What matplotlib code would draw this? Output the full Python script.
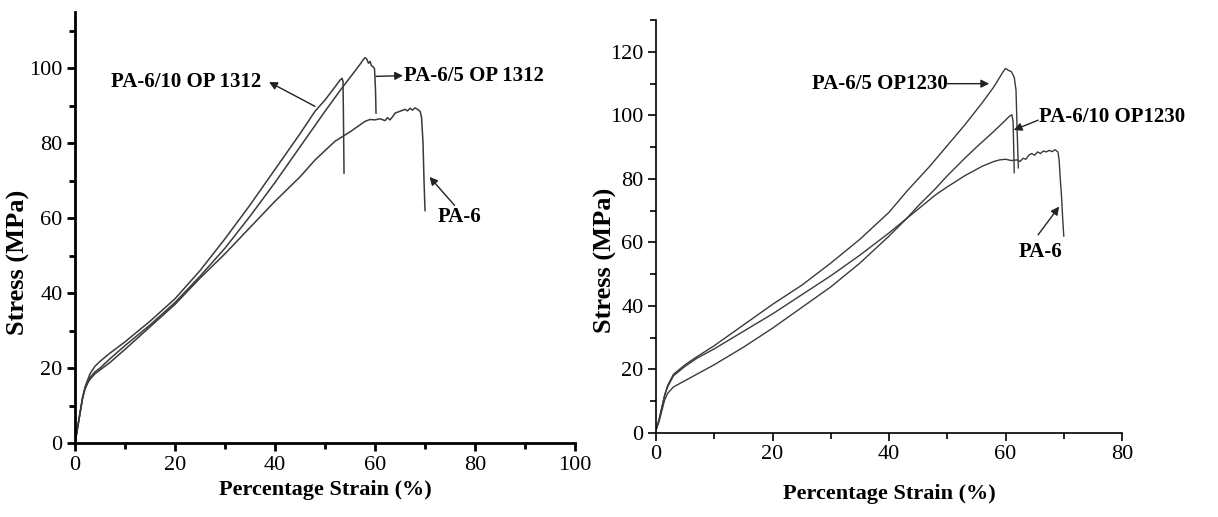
import numpy as np
import matplotlib
matplotlib.use("Agg")
import matplotlib.pyplot as plt
from matplotlib.ticker import MultipleLocator

plt.rcParams['font.family'] = ['Liberation Serif', 'DejaVu Serif']

# ---- left panel (OP 1312) ----
pa6_L_x = [0, 0.5, 1, 1.5, 2, 2.5, 3, 4, 5, 7, 10, 15, 20, 25, 30, 35, 40, 45, 48, 50, 52, 55, 58, 59,
           60, 61, 62, 62.5, 63, 63.5, 64, 65, 66, 66.5, 67, 67.5, 68, 68.5, 69, 69.3, 69.6, 69.8, 70]
pa6_L_y = [0, 4, 8, 12, 14.5, 16, 17, 18.5, 19.5, 21.5, 25, 31, 37, 44, 50.5, 57.5, 64.5, 71, 75.5, 78, 80.5, 83, 85.8, 86.3,
           86.2, 86.5, 86, 86.8, 86.2, 87, 88, 88.5, 89, 88.6, 89.3, 88.8, 89.4, 89, 88.5, 87, 80, 70, 62]

op10_L_x = [0, 0.5, 1, 1.5, 2, 3, 4, 5, 7, 10, 15, 20, 25, 30, 35, 40, 45, 48, 50, 52, 53, 53.4, 53.6, 53.7, 53.8]
op10_L_y = [0, 4, 8, 12, 15, 18.5, 20.5, 21.8, 24, 27, 32.5, 38.5, 46, 54.5, 63.5, 73, 82.5, 88.5, 91.5, 95, 96.8, 97.3, 96.5, 85, 72]

op5_L_x = [0, 0.5, 1, 1.5, 2, 3, 4, 5, 7, 10, 15, 20, 25, 30, 35, 40, 45, 50, 53, 55, 57, 57.5, 58, 58.3,
           58.7, 59, 59.3, 59.6, 59.9, 60.1, 60.2]
op5_L_y = [0, 4, 8, 12, 14.5, 17.5, 19, 20, 22.5, 26, 31.5, 37.5, 44.5, 52, 60.5, 69.5, 79, 88.5, 94, 97.5, 101, 102, 102.8, 102.5,
           101.3, 101.8, 100.6, 100.4, 99.8, 94, 88]

# ---- right panel (OP1230) ----
op5_R_x = [0, 0.5, 1, 1.5, 2, 3, 4, 5, 7, 10, 15, 20, 25, 30, 35, 40, 43, 47, 50, 53, 56, 58, 59.5, 60,
           60.5, 61, 61.5, 61.8, 62, 62.2]
op5_R_y = [1, 4, 8, 12, 15, 18.5, 20, 21.5, 24, 27.5, 34, 40.5, 46.5, 53.5, 61, 69.5, 76, 84, 90.5, 97, 104, 109, 113.5, 114.8,
           114.2, 113.8, 112, 108, 95, 83.5]

pa6_R_x = [0, 0.5, 1, 1.5, 2, 3, 4, 5, 7, 10, 15, 20, 25, 30, 35, 40, 43, 45, 48, 50, 53, 56, 58, 59, 60, 61, 62,
           62.5, 63, 63.5, 64, 64.5, 65, 65.5, 66, 66.5, 67, 67.5, 68, 68.5, 69, 69.2, 69.4, 69.6, 69.8, 70]
pa6_R_y = [1, 4, 8, 12, 14.5, 18, 19.5, 21, 23.5, 26.5, 32, 37.5, 43.5, 49.5, 56, 63, 67.5, 70.5, 75, 77.5, 81, 84, 85.5, 86, 86.2, 85.8, 86,
           85.5, 86.5, 86.2, 87.5, 88, 87.5, 88.5, 88, 88.8, 88.5, 89, 88.6, 89.2, 88.5, 86, 80, 75, 68, 62]

op10_R_x = [0, 0.5, 1, 1.5, 2, 3, 4, 5, 7, 10, 15, 20, 25, 30, 35, 40, 43, 45, 48, 50, 53, 55, 58, 60,
            60.7, 61.1, 61.3, 61.4, 61.5]
op10_R_y = [1, 3.5, 7, 10.5, 12.5, 14.5, 15.5, 16.5, 18.5, 21.5, 27, 33, 39.5, 46, 53.5, 62, 67.5, 71.5, 77, 81, 86.5, 90, 95, 98.5,
            99.8, 100.2, 98, 90, 82]

line_c = '#3a3a3a'
fig = plt.figure(figsize=(12.18, 5.17), dpi=100)
ax1 = fig.add_axes([0.0616, 0.143, 0.4105, 0.834])
ax2 = fig.add_axes([0.5386, 0.1625, 0.3826, 0.7985])

for x, y in [(pa6_L_x, pa6_L_y), (op10_L_x, op10_L_y), (op5_L_x, op5_L_y)]:
    ax1.plot(x, y, color=line_c, lw=1.1)
for x, y in [(op5_R_x, op5_R_y), (pa6_R_x, pa6_R_y), (op10_R_x, op10_R_y)]:
    ax2.plot(x, y, color=line_c, lw=1.0)

arrow = dict(arrowstyle='-|>', color='#222222', lw=1.0, mutation_scale=12, shrinkA=0, shrinkB=0)

def label(ax, txt, tx, ty, ha, tail, head):
    ax.text(tx, ty, txt, ha=ha, va='center', fontsize=15, fontweight='bold')
    ax.annotate('', xy=head, xytext=tail, arrowprops=arrow)

label(ax1, 'PA-6/10 OP 1312', 7.1, 96.3, 'left', (48.0, 89.8), (38.8, 96.3))
label(ax1, 'PA-6/5 OP 1312', 65.8, 98.0, 'left', (60.2, 97.8), (65.6, 98.0))
label(ax1, 'PA-6', 76.9, 60.3, 'center', (75.9, 63.4), (70.9, 71.0))

label(ax2, 'PA-6/5 OP1230', 50.0, 110.0, 'right', (50.0, 110.0), (57.2, 110.0))
label(ax2, 'PA-6/10 OP1230', 65.8, 99.6, 'left', (65.6, 98.5), (61.4, 95.4))
label(ax2, 'PA-6', 66.0, 57.1, 'center', (65.6, 62.4), (69.2, 71.3))

for ax, xmax, ymax, lw, fs in [(ax1, 100, 115, 2.0, 16), (ax2, 80, 130, 1.2, 16)]:
    ax.set_xlim(0, xmax)
    ax.set_ylim(0, ymax)
    ax.spines['top'].set_visible(False)
    ax.spines['right'].set_visible(False)
    ax.spines['left'].set_linewidth(lw)
    ax.spines['bottom'].set_linewidth(lw)
    ax.xaxis.set_major_locator(MultipleLocator(20))
    ax.xaxis.set_minor_locator(MultipleLocator(10))
    ax.yaxis.set_major_locator(MultipleLocator(20))
    ax.yaxis.set_minor_locator(MultipleLocator(10))
    ax.tick_params(which='major', direction='out', length=6, width=lw, labelsize=fs, pad=3)
    ax.tick_params(which='minor', direction='out', length=4, width=lw)
    ax.set_xlabel('Percentage Strain (%)', fontsize=16, fontweight='bold')
    ax.set_ylabel('Stress (MPa)', fontsize=19, fontweight='bold')

ax1.yaxis.set_ticks([0, 20, 40, 60, 80, 100])
ax2.yaxis.set_ticks([0, 20, 40, 60, 80, 100, 120])
ax1.yaxis.set_label_coords(-0.09, 0.418)
ax2.yaxis.set_label_coords(-0.084, 0.419)
ax2.xaxis.labelpad = 14

fig.savefig('out.png', dpi=100)
